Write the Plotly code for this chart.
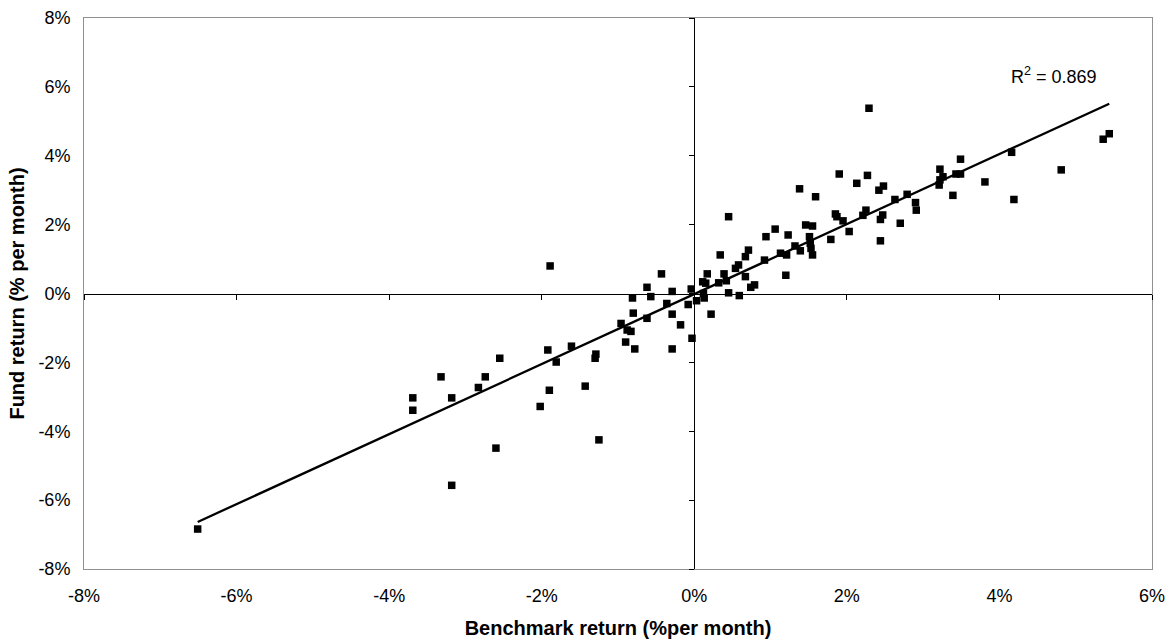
import numpy as np
import plotly.graph_objects as go

bench = [-6.51, -3.69, -3.69, -3.32, -3.18, -3.18, -2.83, -2.74, -2.60, -2.55,
         -2.02, -1.92, -1.90, -1.89, -1.81, -1.61, -1.43, -1.30, -1.29, -1.25,
         -0.96, -0.90, -0.88, -0.83, -0.81, -0.80, -0.78, -0.62, -0.62, -0.57,
         -0.43, -0.36, -0.29, -0.29, -0.29, -0.18, -0.08, -0.04, -0.03, 0.03,
         0.12, 0.13, 0.11, 0.15, 0.17, 0.22, 0.32, 0.34, 0.39, 0.42,
         0.45, 0.45, 0.54, 0.58, 0.59, 0.67, 0.67, 0.71, 0.74, 0.79,
         0.92, 0.94, 1.06, 1.13, 1.20, 1.21, 1.23, 1.32, 1.38, 1.39,
         1.46, 1.51, 1.52, 1.53, 1.55, 1.55, 1.59, 1.79, 1.85, 1.87,
         1.90, 1.95, 2.03, 2.13, 2.21, 2.25, 2.27, 2.29, 2.42, 2.44,
         2.44, 2.47, 2.48, 2.63, 2.70, 2.79, 2.90, 2.91, 3.21, 3.22,
         3.22, 3.26, 3.39, 3.43, 3.49, 3.49, 3.81, 4.16, 4.19, 4.81,
         5.36, 5.44]
fund = [-6.84, -3.03, -3.39, -2.42, -3.03, -5.57, -2.73, -2.42, -4.49, -1.88,
        -3.28, -1.64, -2.81, 0.80, -1.99, -1.53, -2.69, -1.88, -1.76, -4.25,
        -0.87, -1.41, -1.06, -1.10, -0.13, -0.57, -1.61, 0.18, -0.72, -0.09,
        0.57, -0.29, 0.06, -0.60, -1.61, -0.91, -0.32, 0.13, -1.30, -0.21,
        0.00, -0.13, 0.34, 0.30, 0.57, -0.60, 0.31, 1.12, 0.57, 0.37,
        0.02, 2.23, 0.73, 0.83, -0.06, 0.49, 1.07, 1.26, 0.18, 0.25,
        0.97, 1.65, 1.87, 1.17, 0.53, 1.12, 1.70, 1.38, 3.04, 1.24,
        1.99, 1.65, 1.46, 1.31, 1.96, 1.12, 2.81, 1.57, 2.31, 2.23,
        3.47, 2.11, 1.80, 3.20, 2.27, 2.42, 3.43, 5.38, 3.00, 2.15,
        1.53, 2.28, 3.12, 2.73, 2.04, 2.88, 2.64, 2.42, 3.15, 3.30,
        3.61, 3.39, 2.85, 3.47, 3.47, 3.90, 3.24, 4.10, 2.73, 3.59,
        4.48, 4.64]

x_ticks = [-8, -6, -4, -2, 0, 2, 4, 6]
y_ticks = [-8, -6, -4, -2, 0, 2, 4, 6, 8]
r2_label = "R<sup>2</sup> = 0.869"

slope, intercept = np.polyfit(bench, fund, 1)
xl = np.array([min(bench), max(bench)])
yl = slope * xl + intercept

FONT = "Liberation Sans, Arial, sans-serif"

fig = go.Figure()
fig.add_trace(go.Scatter(x=bench, y=fund, mode="markers",
                         marker=dict(symbol="square", size=7.5, color="black"),
                         showlegend=False, hoverinfo="skip"))
fig.add_trace(go.Scatter(x=xl, y=yl, mode="lines",
                         line=dict(color="black", width=2.3),
                         showlegend=False, hoverinfo="skip"))
# invisible trace on overlay axes so the zero-crossing axes are drawn
fig.add_trace(go.Scatter(x=[0], y=[0], xaxis="x2", yaxis="y2", mode="markers",
                         marker=dict(opacity=0), showlegend=False, hoverinfo="skip"))

fig.add_annotation(x=4.72, y=6.32, xref="x", yref="y", text=r2_label,
                   showarrow=False, font=dict(family=FONT, size=18, color="black"))

fig.update_layout(
    width=1172, height=639,
    margin=dict(l=84, r=20, t=18, b=70),
    paper_bgcolor="white", plot_bgcolor="white",
    font=dict(family=FONT, size=18, color="black"),
    xaxis=dict(range=[-8, 6], tickvals=x_ticks,
               ticktext=[f"{v}%" for v in x_ticks],
               showgrid=False, zeroline=False, showline=True, mirror=True,
               linecolor="#909090", linewidth=1, ticks="",
               ticklabelstandoff=10, automargin=False,
               title=dict(text="<b>Benchmark return (%per month)</b>",
                          font=dict(size=20), standoff=19),
               fixedrange=True),
    yaxis=dict(range=[-8, 8], tickvals=y_ticks,
               ticktext=[f"{v}%" for v in y_ticks],
               showgrid=False, zeroline=False, showline=True, mirror=True,
               linecolor="#909090", linewidth=1, ticks="",
               ticklabelstandoff=9, automargin=False,
               title=dict(text="<b>Fund return (% per month)</b>",
                          font=dict(size=20), standoff=8),
               fixedrange=True),
    xaxis2=dict(range=[-8, 6], overlaying="x", anchor="free", position=0.5,
                side="bottom", tickvals=x_ticks, showticklabels=False,
                ticks="outside", ticklen=5, tickcolor="black", tickwidth=1,
                showline=True, linecolor="black", linewidth=1, automargin=False,
                showgrid=False, zeroline=False, fixedrange=True),
    yaxis2=dict(range=[-8, 8], overlaying="y", anchor="free", position=8 / 14,
                side="left", tickvals=y_ticks, showticklabels=False,
                ticks="outside", ticklen=5, tickcolor="black", tickwidth=1,
                showline=True, linecolor="black", linewidth=1, automargin=False,
                showgrid=False, zeroline=False, fixedrange=True),
)

fig.write_html("out.html", config={"displayModeBar": False},
               post_script="document.body.style.margin='0';")
